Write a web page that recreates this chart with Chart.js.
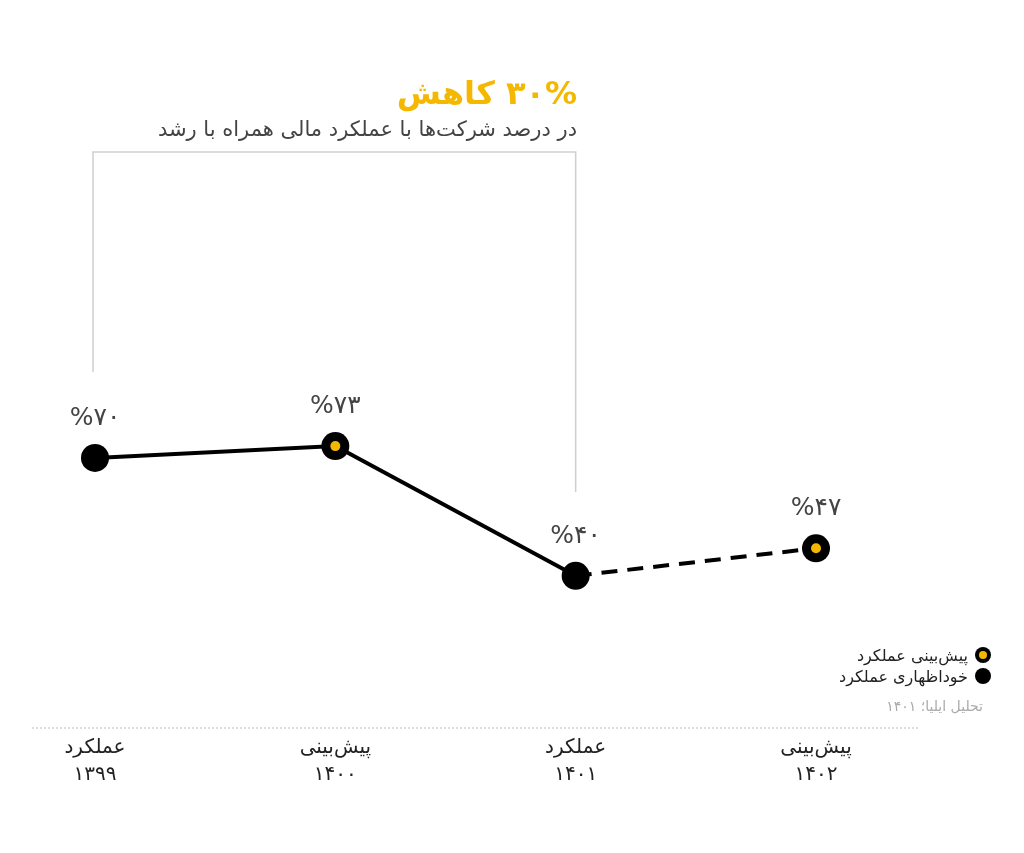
<!DOCTYPE html>
<html><head><meta charset="utf-8">
<script src="https://cdn.jsdelivr.net/npm/chart.js@4"></script>
<style>html,body{margin:0;background:#fff}#w{width:1024px;height:853px}</style>
</head><body><div id="w"><canvas id="c"></canvas></div>
<script>
const categories=[["عملکرد","۱۳۹۹"],["پیش‌بینی","۱۴۰۰"],["عملکرد","۱۴۰۱"],["پیش‌بینی","۱۴۰۲"]];
const values=[70,73,40,47];
const valueLabels=["%۷۰","%۷۳","%۴۰","%۴۷"];
const forecast=[false,true,false,true];
const F="'DejaVu Sans', sans-serif";
const extras={id:'extras',afterDraw(ch){
 const c=ch.ctx,x=ch.scales.x,y=ch.scales.y;
 c.save();
 c.strokeStyle='#cfcfcf';c.lineWidth=1.5;
 c.beginPath();c.moveTo(x.getPixelForValue(0)-2,372);c.lineTo(x.getPixelForValue(0)-2,152);
 c.lineTo(x.getPixelForValue(2),152);c.lineTo(x.getPixelForValue(2),492);c.stroke();
 c.textAlign='right';c.direction='rtl';
 c.fillStyle='#f5b800';c.font='bold 32px '+F;c.fillText('۳۰% کاهش',577,104);
 c.fillStyle='#444';c.font='21px '+F;c.fillText('در درصد شرکت‌ها با عملکرد مالی همراه با رشد',577,136);
 c.textAlign='center';c.direction='ltr';c.fillStyle='#444';c.font='25px '+F;
 values.forEach((v,i)=>{c.fillText(valueLabels[i],x.getPixelForValue(i),y.getPixelForValue(v)-33);});
 c.fillStyle='#222';c.font='20px '+F;c.direction='rtl';
 categories.forEach((l,i)=>{const px=x.getPixelForValue(i);c.fillText(l[0],px,753);c.fillText(l[1],px,780);});
 c.textAlign='right';c.font='16px '+F;c.fillStyle='#222';
 c.fillText('پیش‌بینی عملکرد',968,661);c.fillText('خوداظهاری عملکرد',968,682);
 c.fillStyle='#000';c.beginPath();c.arc(983,655,8,0,7);c.fill();c.beginPath();c.arc(983,676,8,0,7);c.fill();
 c.fillStyle='#f5b800';c.beginPath();c.arc(983,655,4,0,7);c.fill();
 c.fillStyle='#aaa';c.font='14px '+F;c.fillText('تحلیل ایلیا؛ ۱۴۰۱',983,711);
 c.strokeStyle='#bbb';c.lineWidth=1;c.setLineDash([2,2]);
 c.beginPath();c.moveTo(32,728);c.lineTo(918,728);c.stroke();
 c.restore();
}};
new Chart(document.getElementById('c'),{type:'line',
 data:{labels:categories.map(l=>l.join(' ')),datasets:[{order:2,data:values,borderColor:'#000',borderWidth:4,
  pointRadius:14,pointHoverRadius:14,pointBackgroundColor:'#000',pointBorderWidth:0,
  segment:{borderDash:c=>c.p0DataIndex>=2?[16,10]:undefined}},
  {order:1,data:values.map((v,i)=>forecast[i]?v:null),showLine:false,pointRadius:5,pointHoverRadius:5,pointBackgroundColor:'#f5b800',pointBorderWidth:0}]},
 options:{responsive:true,maintainAspectRatio:false,animation:false,
  layout:{padding:{left:95,right:208,top:340,bottom:120}},
  plugins:{legend:{display:false},tooltip:{enabled:false}},
  scales:{x:{display:false,offset:false},
   y:{display:false,min:0,max:100}}},
 plugins:[extras]});
</script></body></html>
